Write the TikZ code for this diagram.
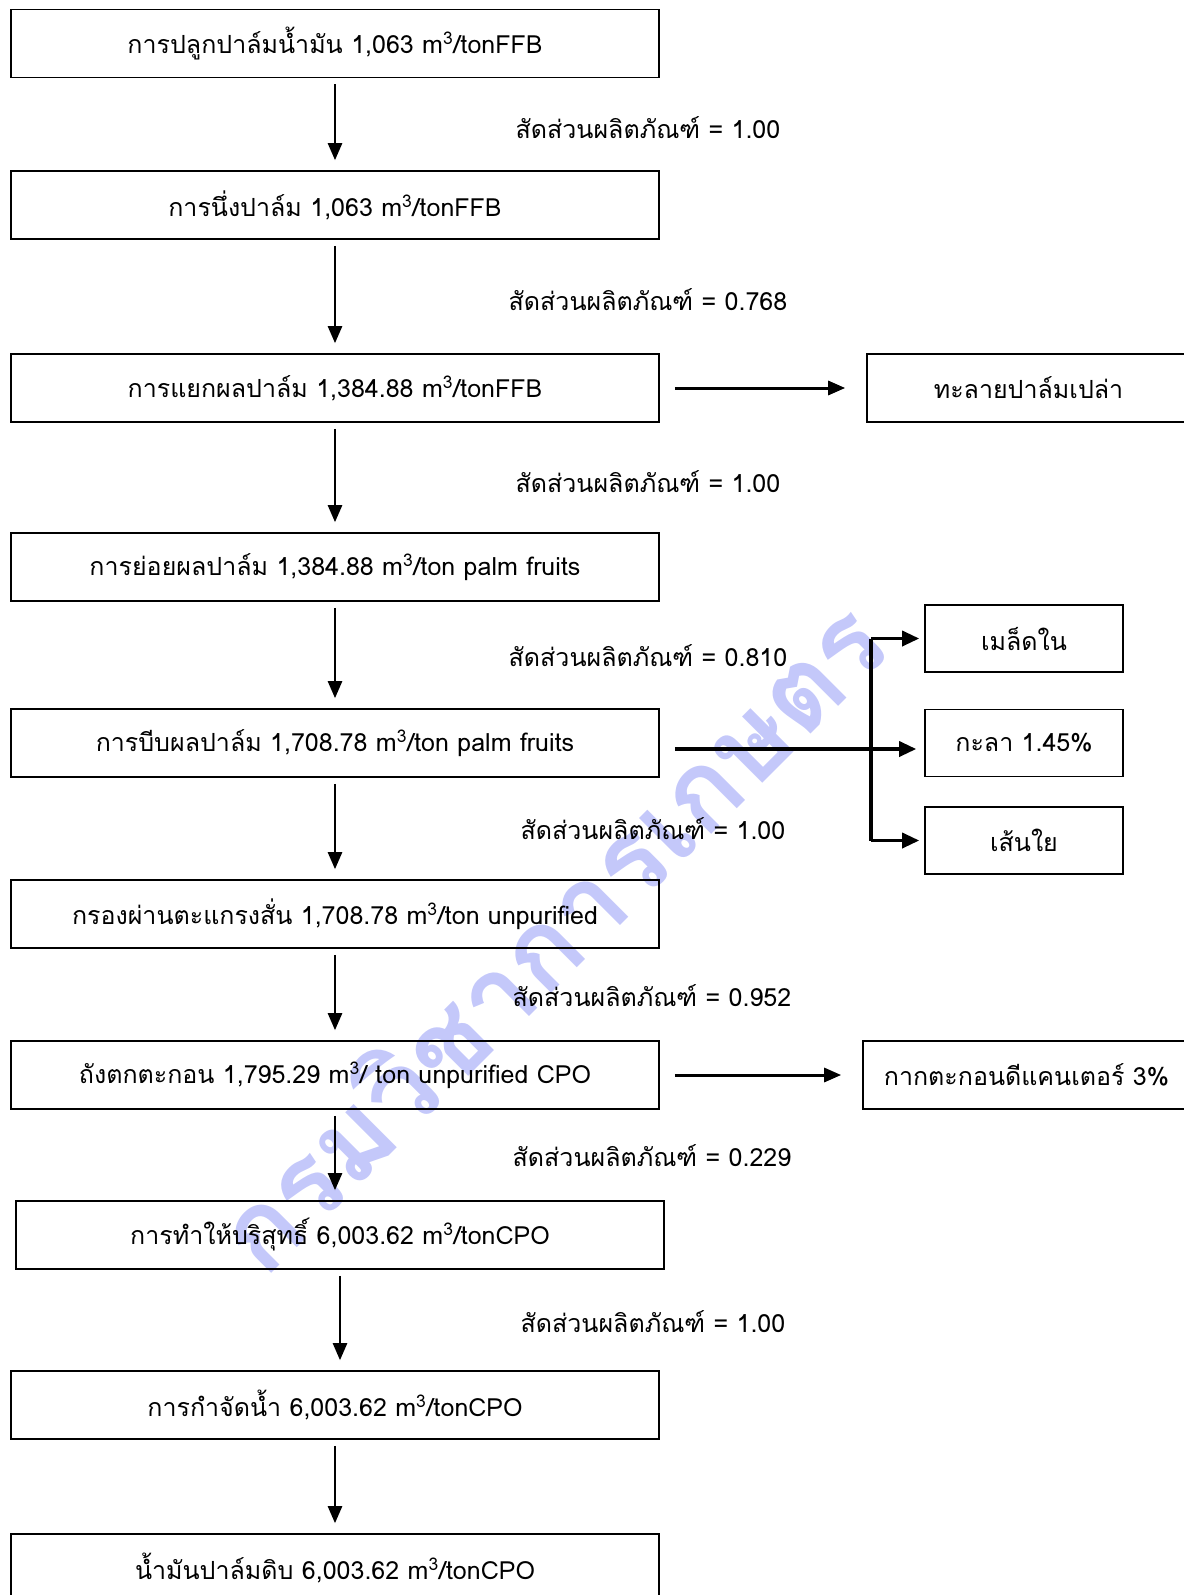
\documentclass[tikz,border=0pt]{standalone}
\usepackage{fontspec}
\setmainfont[Script=Thai]{Loma}
\usetikzlibrary{arrows.meta}
\definecolor{wmblue}{RGB}{196,200,250}
\tikzset{
  stage/.style={draw, line width=1.6, minimum width=648, minimum height=68, inner sep=0,
    font=\fontsize{25}{30}\selectfont},
  waste/.style={stage, minimum width=198, minimum height=67},
  ratio/.style={font=\fontsize{25}{30}\selectfont, inner sep=0},
  flow/.style={line width=2.5, -{Triangle[length=17,width=14]}, shorten <=6, shorten >=10},
  side/.style={line width=3.4, -{Triangle[length=17,width=15]}}
}
\begin{document}
\begin{tikzpicture}[x=1pt,y=-1pt]
\useasboundingbox (0,0) rectangle (1183,1595);
% watermark
\node[rotate=45, text=wmblue, font=\fontsize{110}{112}\selectfont\bfseries] (wm) at (548,934) {กรมวิชาการเกษตร};
% main line
\node[stage] (plant) at (335,43.5) {การปลูกปาล์มน้ำมัน 1,063 m\textsuperscript{3}/tonFFB};
\node[stage] (steam) at (335,205) {การนึ่งปาล์ม 1,063 m\textsuperscript{3}/tonFFB};
\node[stage] (thresh) at (335,388) {การแยกผลปาล์ม 1,384.88 m\textsuperscript{3}/tonFFB};
\node[stage] (digest) at (335,567) {การย่อยผลปาล์ม 1,384.88 m\textsuperscript{3}/ton palm fruits};
\node[stage] (press) at (335,743) {การบีบผลปาล์ม 1,708.78 m\textsuperscript{3}/ton palm fruits};
\node[stage] (screen) at (335,914) {กรองผ่านตะแกรงสั่น 1,708.78 m\textsuperscript{3}/ton unpurified};
\node[stage] (settle) at (335,1075) {ถังตกตะกอน 1,795.29 m\textsuperscript{3}/ ton unpurified CPO};
\node[stage] (purify) at (340,1235) {การทำให้บริสุทธิ์ 6,003.62 m\textsuperscript{3}/tonCPO};
\node[stage] (dry) at (335,1405) {การกำจัดน้ำ 6,003.62 m\textsuperscript{3}/tonCPO};
\node[stage] (cpo) at (335,1568) {น้ำมันปาล์มดิบ 6,003.62 m\textsuperscript{3}/tonCPO};
% by-products
\node[stage, minimum width=323] (efb) at (1028.5,388) {ทะลายปาล์มเปล่า};
\node[waste] (kernel) at (1024,638.5) {เมล็ดใน};
\node[waste] (shell) at (1024,743) {กะลา 1.45\%};
\node[waste] (fibre) at (1024,840.5) {เส้นใย};
\node[stage, minimum width=327] (sludge) at (1026.5,1075) {กากตะกอนดีแคนเตอร์ 3\%};
% ratios
\node[ratio] (r1) at (648,128) {สัดส่วนผลิตภัณฑ์ = 1.00};
\node[ratio] (r2) at (648,300) {สัดส่วนผลิตภัณฑ์ = 0.768};
\node[ratio] (r3) at (648,482) {สัดส่วนผลิตภัณฑ์ = 1.00};
\node[ratio] (r4) at (648,656) {สัดส่วนผลิตภัณฑ์ = 0.810};
\node[ratio] (r5) at (653,829) {สัดส่วนผลิตภัณฑ์ = 1.00};
\node[ratio] (r6) at (652,996) {สัดส่วนผลิตภัณฑ์ = 0.952};
\node[ratio] (r7) at (652,1156) {สัดส่วนผลิตภัณฑ์ = 0.229};
\node[ratio] (r8) at (653,1322) {สัดส่วนผลิตภัณฑ์ = 1.00};
% arrows down
\foreach \a/\b in {plant/steam, steam/thresh, thresh/digest, digest/press, press/screen,
  screen/settle, settle/purify, purify/dry, dry/cpo}
  \draw[flow] (\a.south) -- (\a.south |- \b.north);
% arrows right
\draw[flow, line width=3, shorten <=15, shorten >=21] (thresh.east) -- (efb.west);
\draw[flow, line width=3, shorten <=15, shorten >=21] (settle.east) -- (sludge.west);
\coordinate (fork) at (871,749);
\draw[side, shorten <=15, shorten >=8] (press.east |- fork) -- (shell.west |- fork);
\draw[line width=3.4] (fork |- kernel) -- (fork |- fibre);
\draw[side, shorten >=5] (fork |- kernel) -- (kernel.west);
\draw[side, shorten >=5] (fork |- fibre) -- (fibre.west);
\end{tikzpicture}
\end{document}
